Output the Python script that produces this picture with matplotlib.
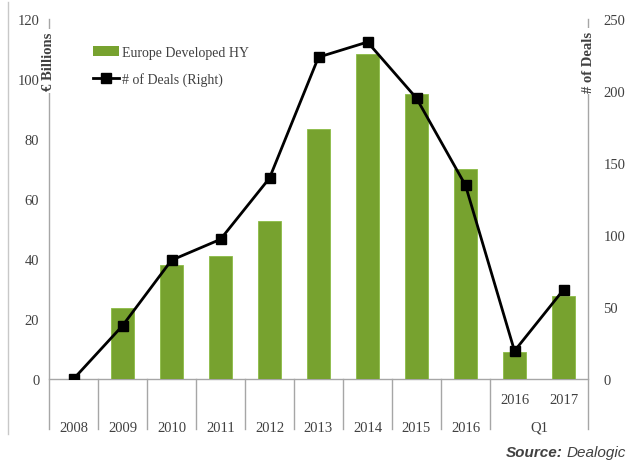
import matplotlib.pyplot as plt
from matplotlib.lines import Line2D
from matplotlib.patches import Patch
import matplotlib.transforms as mtransforms

categories = ['2008', '2009', '2010', '2011', '2012', '2013', '2014', '2015', '2016', '2016', '2017']
main_labels = ['2008', '2009', '2010', '2011', '2012', '2013', '2014', '2015', '2016']
q1_labels = ['2016', '2017']
volume = [0, 23.7, 38, 41, 52.7, 83.3, 108.3, 95, 70, 9, 27.7]
deals = [0, 37, 82.5, 97, 139.5, 223.5, 234, 195, 134.5, 19.5, 62]

green = '#77a22f'
txt = '#404040'
grey = '#a6a6a6'
serif = 'Liberation Serif'
fs = 10.5

W, H = 631, 464
fig = plt.figure(figsize=(W / 100, H / 100), dpi=100)
ax = fig.add_axes([49 / W, 1 - 380 / H, (588 - 49) / W, 360 / H])
ax2 = ax.twinx()

x = list(range(len(categories)))
ax.bar(x, volume, width=0.45, color=green, edgecolor='#8cbc45', linewidth=0.6, zorder=2)
ax2.plot(x, deals, color='black', lw=2, marker='s', ms=7, zorder=3)

ax.set_xlim(-0.5, 10.5)
ax.set_ylim(0, 120)
ax2.set_ylim(0, 250)
ax.set_yticks(range(0, 121, 20))
ax2.set_yticks(range(0, 251, 50))
ax.set_xticks([])
for a in (ax, ax2):
    for s in a.spines.values():
        s.set_visible(False)
ax.tick_params(axis='y', length=0, pad=7, labelcolor=txt, labelsize=fs)
ax2.tick_params(axis='y', length=0, pad=11, labelcolor=txt, labelsize=fs)
for lab in ax.get_yticklabels() + ax2.get_yticklabels():
    lab.set_fontfamily(serif)

# frame lines: spines, baseline, category separators
trans = mtransforms.blended_transform_factory(ax.transData, ax.transAxes)
low = -50 / 360
ax.plot([-0.5, 10.5], [0, 0], color=grey, lw=1, transform=trans, clip_on=False, zorder=1)
for xs in [-0.5, 10.5]:
    ax.plot([xs, xs], [1, low], color=grey, lw=1, transform=trans, clip_on=False)
for xs in [0.5, 1.5, 2.5, 3.5, 4.5, 5.5, 6.5, 7.5, 8.5]:
    ax.plot([xs, xs], [0, low], color=grey, lw=1, transform=trans, clip_on=False)

# x labels
for i, lab in enumerate(main_labels):
    ax.text(i, -48 / 360, lab, transform=trans, ha='center', va='center',
            fontsize=fs, color=txt, family=serif)
for i, lab in enumerate(q1_labels):
    ax.text(9 + i, -20 / 360, lab, transform=trans, ha='center', va='center',
            fontsize=fs, color=txt, family=serif)
ax.text(9.5, -48 / 360, 'Q1', transform=trans, ha='center', va='center',
        fontsize=fs, color=txt, family=serif)

# axis titles sitting on the spines
box = dict(facecolor='white', edgecolor='none', pad=2)
ax.text(-0.5, 1 - 42 / 360, '€ Billions', transform=trans, rotation=90, ha='center',
        va='center', fontsize=fs, fontweight='bold', color=txt, family=serif, bbox=box)
ax.text(10.5, 1 - 42 / 360, '# of Deals', transform=trans, rotation=90, ha='center',
        va='center', fontsize=fs, fontweight='bold', color=txt, family=serif, bbox=box)

handles = [Patch(facecolor=green, edgecolor='none'),
           Line2D([], [], color='black', lw=2, marker='s', ms=7)]
leg = fig.legend(handles, ['Europe Developed HY', '# of Deals (Right)'],
                 loc='upper left', bbox_to_anchor=(80 / W, 1 - 34 / H), frameon=False,
                 handlelength=1.9, handletextpad=0.2, labelspacing=1.0,
                 prop={'family': serif, 'size': 10})
for t in leg.get_texts():
    t.set_color(txt)

# left border line
fig.add_artist(Line2D([8 / W, 8 / W], [1 - 3 / H, 1 - 435 / H], color='#c8c8c8', lw=1))

fig.text(563 / W, 1 - 453 / H, 'Source:', ha='right', va='center', fontsize=11,
         style='italic', fontweight='bold', color=txt, family='Liberation Sans')
fig.text(567 / W, 1 - 453 / H, 'Dealogic', ha='left', va='center', fontsize=11,
         style='italic', color=txt, family='Liberation Sans')

fig.savefig('out.png', dpi=100)
